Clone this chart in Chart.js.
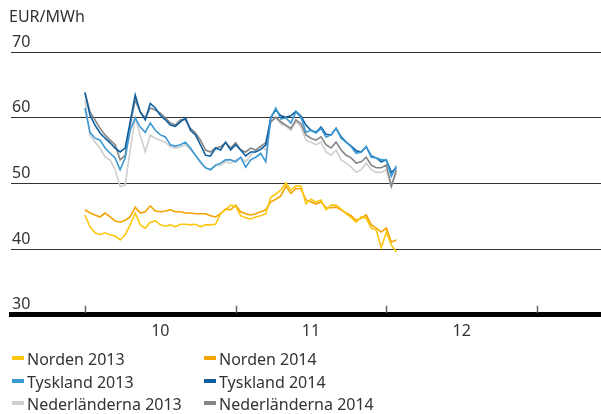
<!DOCTYPE html>
<html>
<head>
<meta charset="utf-8">
<script src="https://cdn.jsdelivr.net/npm/chart.js@4"></script>
<style>
  body { margin: 0; background: #fff; font-family: "Noto Sans", sans-serif; }
  #wrap { position: relative; width: 601px; height: 414px; }
  #legend { position: absolute; left: 12px; top: 348px; display: grid; grid-template-columns: 192px 200px; }
  .item { height: 22.5px; line-height: 22px; font-size: 16px; color: #333; white-space: nowrap; }
  .item i { display: inline-block; width: 12px; height: 4px; margin-right: 3px; vertical-align: 5px; }
</style>
</head>
<body>
<div id="wrap">
  <canvas id="myChart"></canvas>
  <div id="legend"></div>
</div>
<script>
// månader (etiketter mellan tickarna) och tickarnas läge i dagar
var manader = ["10", "11", "12"];
var manadStart = [0, 30, 60, 90];
var yTicks = [30, 40, 50, 60, 70];

// dagliga priser, EUR/MWh
var norden2013 = [45.2, 43.4, 42.5, 42.2, 42.5, 42.2, 42.0, 41.4, 42.2, 43.7, 45.5, 43.7, 43.2, 44.1, 44.3, 43.7,
  43.5, 43.7, 43.4, 43.8, 43.8, 43.7, 43.8, 43.4, 43.7, 43.7, 43.8, 45.4, 46.0, 46.7, 46.5, 45.1,
  44.8, 44.6, 44.9, 45.1, 45.4, 47.9, 48.4, 49.0, 50.1, 49.0, 49.6, 49.6, 46.9, 47.6, 47.2, 47.5,
  46.0, 46.7, 46.7, 46.1, 45.4, 44.8, 44.1, 44.9, 44.7, 43.2, 42.9, 40.2, 42.6, 40.6, 39.6];
var norden2014 = [46.0, 45.5, 45.2, 44.9, 45.5, 44.9, 44.3, 44.1, 44.4, 44.9, 46.4, 45.5, 45.7, 46.6, 45.8, 45.7,
  45.8, 46.0, 45.7, 45.7, 45.5, 45.5, 45.4, 45.4, 45.4, 45.1, 44.9, 45.4, 46.1, 46.0, 46.7, 45.7,
  45.4, 45.2, 45.4, 45.7, 46.0, 47.2, 47.6, 48.1, 49.6, 48.5, 49.2, 49.2, 47.5, 47.2, 46.9, 47.2,
  46.3, 46.3, 46.4, 46.0, 45.5, 45.1, 44.4, 44.7, 45.2, 43.7, 43.2, 42.6, 43.2, 41.1, 41.4];
var tyskland2013 = [61.5, 57.8, 56.9, 56.6, 55.4, 54.6, 53.9, 52.1, 53.9, 58.1, 60.0, 58.6, 57.8, 59.2, 58.1, 57.4,
  57.1, 55.9, 55.7, 55.9, 56.3, 55.4, 54.3, 53.3, 52.4, 52.1, 52.8, 53.1, 53.6, 53.6, 53.3, 54.0,
  52.5, 53.6, 54.0, 54.6, 53.3, 60.0, 61.5, 59.8, 60.0, 59.2, 60.9, 60.1, 57.8, 58.1, 57.7, 58.4,
  57.1, 57.4, 58.4, 56.9, 56.3, 55.6, 54.6, 54.8, 55.6, 54.0, 53.9, 53.6, 53.6, 51.1, 52.7];
var tyskland2014 = [63.8, 60.4, 58.9, 57.7, 56.9, 56.2, 55.4, 54.8, 55.4, 59.4, 63.5, 60.9, 59.7, 62.2, 61.5, 60.4,
  59.7, 58.9, 58.7, 59.4, 60.0, 58.1, 57.4, 55.9, 54.3, 54.2, 55.4, 55.1, 56.3, 55.1, 55.9, 55.1,
  54.2, 54.8, 54.8, 55.2, 55.9, 60.1, 61.2, 60.3, 60.1, 60.3, 61.0, 60.3, 58.9, 58.1, 57.8, 58.6,
  57.5, 57.4, 58.4, 57.1, 56.3, 55.7, 55.0, 54.8, 55.6, 54.2, 53.9, 53.3, 53.6, 51.7, 52.4];
var nederlanderna2013 = [62.7, 57.4, 56.3, 55.4, 54.0, 53.6, 52.1, 49.5, 49.8, 55.1, 60.0, 57.4, 54.8, 57.4, 56.9, 56.6,
  56.3, 55.6, 55.4, 55.6, 55.9, 55.1, 54.3, 53.1, 52.4, 52.1, 52.7, 52.8, 53.3, 53.1, 53.6, 53.9,
  53.3, 54.3, 55.1, 55.6, 55.1, 59.4, 60.0, 59.1, 58.7, 58.1, 59.4, 58.6, 56.6, 56.3, 55.9, 56.3,
  54.8, 54.3, 55.1, 53.6, 53.1, 52.5, 51.7, 52.1, 53.1, 52.1, 51.7, 51.7, 52.1, 49.5, 51.7];
var nederlanderna2014 = [63.9, 60.9, 59.7, 58.4, 57.4, 56.6, 55.9, 53.6, 54.3, 58.9, 62.7, 60.9, 60.0, 61.5, 61.2, 60.7,
  60.0, 59.2, 58.9, 59.7, 59.7, 58.4, 57.7, 56.6, 55.1, 54.8, 55.4, 55.6, 56.2, 55.4, 56.2, 55.1,
  54.8, 55.4, 55.1, 55.7, 56.2, 59.4, 60.1, 59.4, 58.9, 58.4, 59.7, 59.1, 57.4, 56.9, 56.6, 57.1,
  55.9, 55.4, 56.3, 55.1, 54.3, 53.9, 53.1, 53.3, 54.0, 52.8, 52.4, 52.4, 52.8, 49.6, 52.1];

var serier = [
  { label: "Norden 2013", data: norden2013, color: "#fcc70f", order: 5 },
  { label: "Norden 2014", data: norden2014, color: "#f4a300", order: 6 },
  { label: "Tyskland 2013", data: tyskland2013, color: "#3b99d4", order: 1 },
  { label: "Tyskland 2014", data: tyskland2014, color: "#0d5fa0", order: 2 },
  { label: "Nederländerna 2013", data: nederlanderna2013, color: "#cfcfcf", order: 4 },
  { label: "Nederländerna 2014", data: nederlanderna2014, color: "#858585", order: 3 }
];

var font = { family: "'Noto Sans', sans-serif", size: 16 };

// små tickstreck ovanför x-axeln vid månadsskiftena
var monthTicks = {
  id: "monthTicks",
  afterDraw: function(chart) {
    var ctx = chart.ctx, xs = chart.scales.x, area = chart.chartArea;
    ctx.save();
    ctx.strokeStyle = "#666";
    ctx.lineWidth = 1.5;
    manadStart.forEach(function(v) {
      var px = Math.round(xs.getPixelForValue(v)) + 0.5;
      ctx.beginPath();
      ctx.moveTo(px, area.bottom - 9);
      ctx.lineTo(px, area.bottom - 2);
      ctx.stroke();
    });
    ctx.restore();
  }
};

function getGraph() {
  var ctx = document.getElementById("myChart").getContext("2d");
  var chart = new Chart(ctx, {
    type: "line",
    data: {
      datasets: serier.map(function(s) {
        return {
          label: s.label,
          data: s.data.map(function(v, i) { return { x: i, y: v }; }),
          borderColor: s.color,
          backgroundColor: s.color,
          borderWidth: 1.6,
          pointRadius: 0,
          tension: 0,
          order: s.order
        };
      })
    },
    options: {
      responsive: true,
      maintainAspectRatio: false,
      animation: false,
      layout: { padding: { left: 9, right: 0, top: 2, bottom: 66 } },
      plugins: {
        legend: { display: false },
        tooltip: { enabled: false },
        title: {
          display: true,
          text: "EUR/MWh",
          align: "start",
          color: "#333",
          font: { family: font.family, size: 16, weight: "normal" },
          padding: { top: 6, bottom: 25 }
        }
      },
      scales: {
        x: {
          type: "linear",
          min: -14.73,
          max: 102.75,
          afterBuildTicks: function(scale) {
            scale.ticks = manader.map(function(m, i) {
              return { value: (manadStart[i] + manadStart[i + 1]) / 2 };
            });
          },
          ticks: {
            padding: 7,
            color: "#333",
            font: font,
            callback: function(value, index) { return manader[index]; }
          },
          grid: { display: true, drawOnChartArea: false, drawTicks: false },
          border: { display: true, color: "#000", width: 5 }
        },
        y: {
          min: 30,
          max: 70,
          afterBuildTicks: function(scale) {
            scale.ticks = yTicks.map(function(v) { return { value: v }; });
          },
          ticks: {
            mirror: true,
            padding: 1,
            labelOffset: -10,
            color: "#333",
            font: font
          },
          grid: {
            drawTicks: false,
            color: function(c) { return c.tick && c.tick.value === 30 ? "rgba(0,0,0,0)" : "#333"; },
            lineWidth: 1
          },
          border: { display: false }
        }
      }
    },
    plugins: [monthTicks]
  });

  var legend = document.getElementById("legend");
  serier.forEach(function(s) {
    var d = document.createElement("div");
    d.className = "item";
    d.innerHTML = '<i style="background:' + s.color + '"></i>' + s.label;
    legend.appendChild(d);
  });
}

getGraph();
</script>
</body>
</html>
